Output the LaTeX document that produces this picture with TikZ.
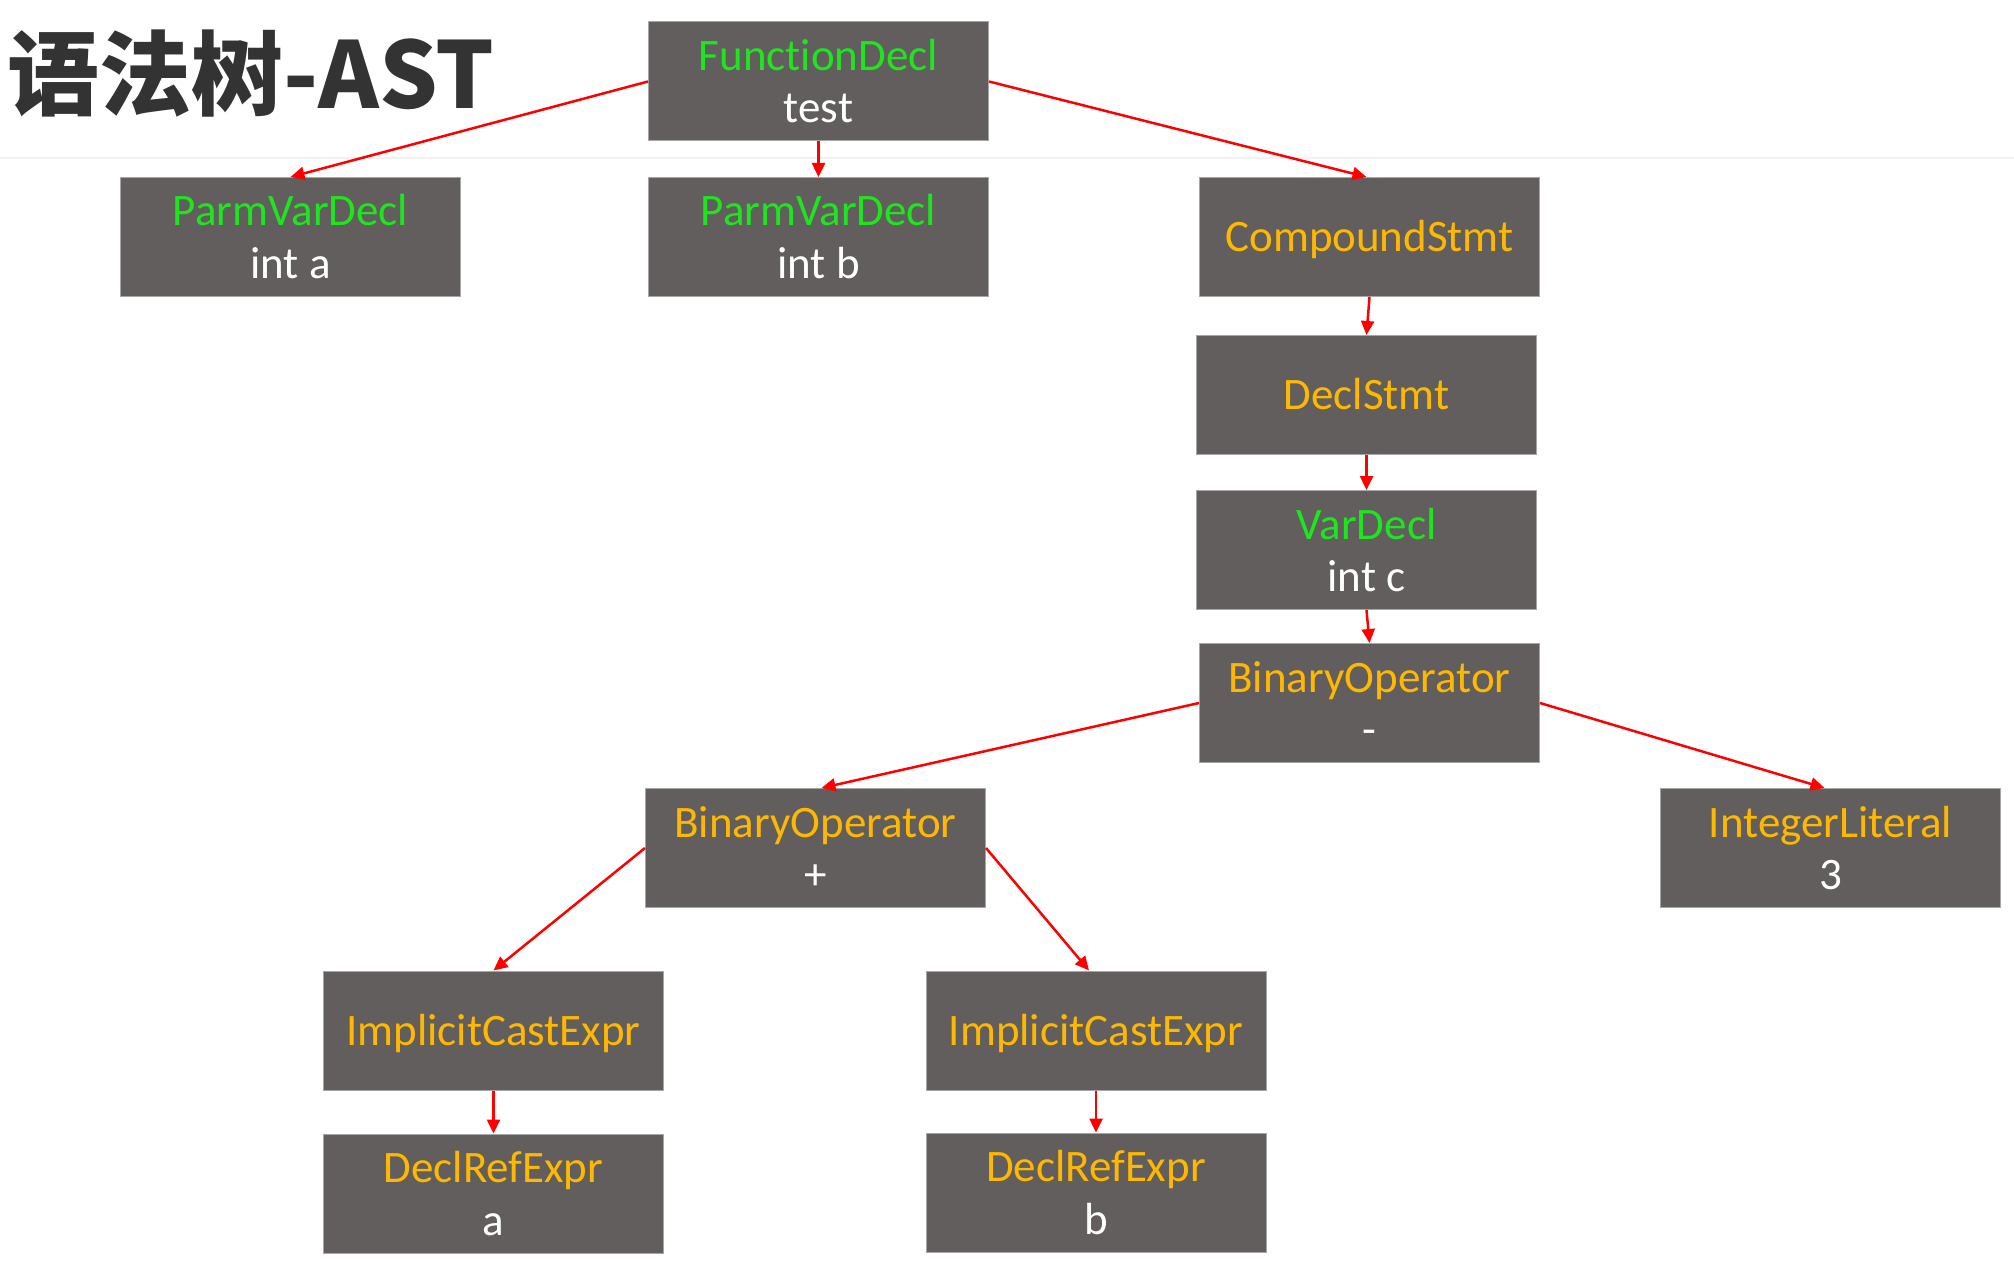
\documentclass[tikz,border=0pt]{standalone}
\usepackage{fontspec}
\setmainfont{Carlito}[Ligatures=NoCommon]
\newfontfamily\cjk{Noto Sans CJK SC}
\usetikzlibrary{arrows.meta}
\definecolor{boxfill}{HTML}{625E5D}
\definecolor{boxline}{HTML}{A6A6A6}
\definecolor{tgreen}{HTML}{1EE61E}
\definecolor{torange}{HTML}{FFB800}
\definecolor{titlegray}{HTML}{333333}
\definecolor{sepline}{HTML}{F2F2F2}
\definecolor{arrred}{HTML}{FF0000}
\begin{document}
\begin{tikzpicture}[x=1pt,y=-1pt,
  box/.style={draw=boxline, fill=boxfill, line width=1pt, minimum width=340pt, minimum height=119pt, inner sep=0pt},
  txt/.style={anchor=base, inner sep=0pt, font=\fontsize{45}{52}\selectfont},
  gtxt/.style={txt, text=tgreen},
  otxt/.style={txt, text=torange},
  wtxt/.style={txt, text=white},
  arr/.style={draw=arrred, line width=2.5pt, -{Triangle[length=14pt,width=13pt]}}
]
\useasboundingbox (0,0) rectangle (2014,1268);
\fill[white] (0,0) rectangle (2014,1268);
\draw[sepline, line width=2.5pt] (0,158) -- (2014,158);

\node[anchor=base west, inner sep=0pt, text=titlegray, font=\cjk\bfseries\fontsize{92}{100}\selectfont] (title) at (7,109) {语法树-AST};

% boxes
\node[box] (fd)  at (818.5,81.5) {};
\node[box] (pa)  at (290.5,237) {};
\node[box] (pb)  at (818.5,237) {};
\node[box] (cs)  at (1369.5,237) {};
\node[box] (ds)  at (1366.5,395) {};
\node[box] (vd)  at (1366.5,550) {};
\node[box] (bm)  at (1369.5,703) {};
\node[box] (bp)  at (815.5,848) {};
\node[box] (il)  at (1830.5,848) {};
\node[box] (ica) at (493.5,1030.5) {};
\node[box] (icb) at (1096,1030.5) {};
\node[box] (dra) at (493.5,1193.5) {};
\node[box] (drb) at (1096,1192.5) {};

% texts
\node[gtxt] (fd1) at ([yshift=11pt]fd.center) {FunctionDecl};
\node[wtxt] (fd2) at ([yshift=-41.5pt]fd.center) {test};
\node[gtxt] (pa1) at ([yshift=11pt]pa.center) {ParmVarDecl};
\node[wtxt] (pa2) at ([yshift=-41.5pt]pa.center) {int a};
\node[gtxt] (pb1) at ([yshift=11pt]pb.center) {ParmVarDecl};
\node[wtxt] (pb2) at ([yshift=-41.5pt]pb.center) {int b};
\node[otxt] (cs1) at ([yshift=-14.5pt]cs.center) {CompoundStmt};
\node[otxt] (ds1) at ([yshift=-14.5pt]ds.center) {DeclStmt};
\node[gtxt] (vd1) at ([yshift=11pt]vd.center) {VarDecl};
\node[wtxt] (vd2) at ([yshift=-41.5pt]vd.center) {int c};
\node[otxt] (bm1) at ([yshift=11pt]bm.center) {BinaryOperator};
\node[wtxt] (bm2) at ([yshift=-41.5pt]bm.center) {-};
\node[otxt] (bp1) at ([yshift=11pt]bp.center) {BinaryOperator};
\node[wtxt] (bp2) at ([yshift=-41.5pt]bp.center) {+};
\node[otxt] (il1) at ([yshift=11pt]il.center) {IntegerLiteral};
\node[wtxt] (il2) at ([yshift=-41.5pt]il.center) {3};
\node[otxt] (ica1) at ([yshift=-14.5pt]ica.center) {ImplicitCastExpr};
\node[otxt] (icb1) at ([yshift=-14.5pt]icb.center) {ImplicitCastExpr};
\node[otxt] (dra1) at ([yshift=11pt]dra.center) {DeclRefExpr};
\node[wtxt] (dra2) at ([yshift=-41.5pt]dra.center) {a};
\node[otxt] (drb1) at ([yshift=11pt]drb.center) {DeclRefExpr};
\node[wtxt] (drb2) at ([yshift=-41.5pt]drb.center) {b};

% connectors
\draw[arr] (fd.west) -- (pa.north);
\draw[arr] (fd.south) -- (pb.north);
\draw[arr] (fd.east) -- ([xshift=-3pt]cs.north);
\draw[arr] (cs.south) -- (ds.north);
\draw[arr] (ds.south) -- (vd.north);
\draw[arr] (vd.south) -- (bm.north);
\draw[arr] (bm.west) -- ([xshift=6pt]bp.north);
\draw[arr] (bm.east) -- ([xshift=-6pt]il.north);
\draw[arr] (bp.west) -- (ica.north);
\draw[arr] (bp.east) -- ([xshift=-7pt]icb.north);
\draw[arr] (ica.south) -- (dra.north);
\draw[arr] (icb.south) -- (drb.north);
\end{tikzpicture}
\end{document}
